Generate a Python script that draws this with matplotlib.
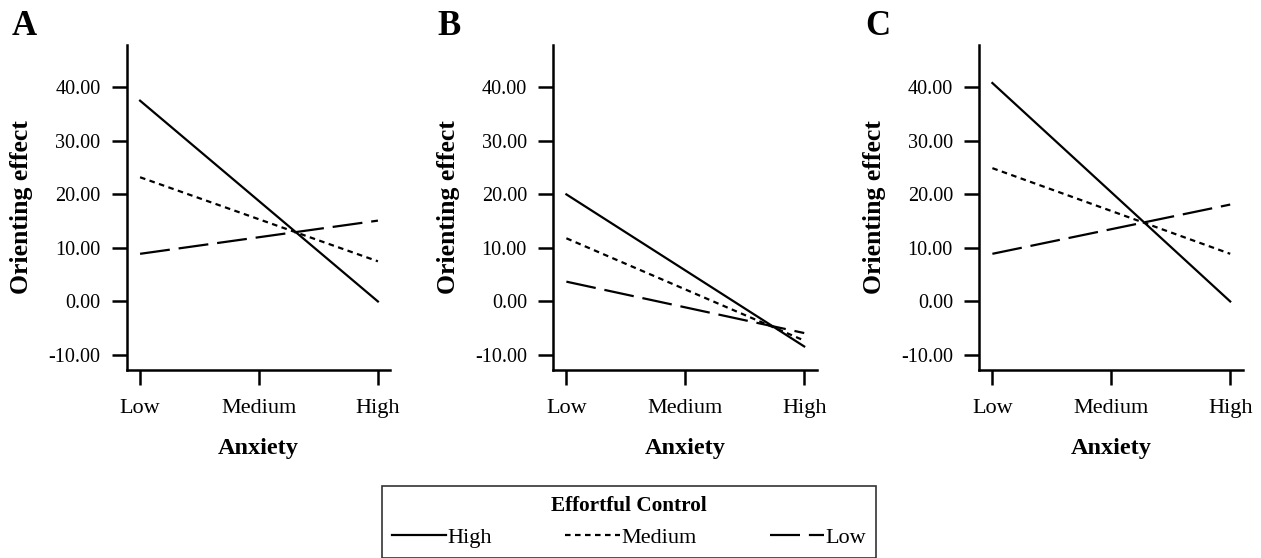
import matplotlib.pyplot as plt

plt.rcParams['font.family'] = 'Liberation Serif'

anxiety = ['Low', 'Medium', 'High']
xpos = [0, 1, 2]

# orienting effect at low / high anxiety for each effortful control level
panel_labels = ['A', 'B', 'C']
ec_high = [[37.5, 0.0], [20.0, -8.4], [40.8, 0.0]]
ec_medium = [[23.2, 7.5], [11.8, -7.3], [24.9, 8.9]]
ec_low = [[8.9, 15.1], [3.7, -5.9], [8.9, 18.1]]

yticks = [-10, 0, 10, 20, 30, 40]

W, H = 1261, 558
fig = plt.figure(figsize=(W / 100, H / 100), dpi=100)

lefts = [127, 553.3, 979.3]
letter_x = [12, 437, 865]
lw = 1.6
handles = None
for i in range(3):
    ax = fig.add_axes([lefts[i] / W, 1 - 370 / H, 263.4 / W, 325 / H])
    h1, = ax.plot([0, 2], ec_high[i], color='black', lw=lw, label='High')
    h2, = ax.plot([0, 2], ec_medium[i], color='black', lw=lw, dashes=(2.5, 2.0), label='Medium')
    h3, = ax.plot([0, 2], ec_low[i], color='black', lw=lw, dashes=(13.5, 4), label='Low')
    if handles is None:
        handles = [h1, h2, h3]
    ax.set_xlim(-0.11, 2.105)
    ax.set_ylim(-12.8, 47.9)
    ax.set_xticks(xpos)
    ax.set_xticklabels(anxiety, fontsize=16)
    ax.set_yticks(yticks)
    ax.set_yticklabels(['%.2f' % v for v in yticks], fontsize=14.5)
    ax.tick_params(direction='out', length=11, width=1.8, color='black')
    ax.tick_params(axis='y', pad=8)
    ax.tick_params(axis='x', pad=10)
    for s in ['top', 'right']:
        ax.spines[s].set_visible(False)
    for s in ['left', 'bottom']:
        ax.spines[s].set_linewidth(1.8)
    ax.set_xlabel('Anxiety', fontsize=17.5, fontweight='bold')
    ax.set_ylabel('Orienting effect', fontsize=18.5, fontweight='bold')
    ax.xaxis.set_label_coords(0.5, -0.21)
    ax.yaxis.set_label_coords(-0.355, 0.5)
    fig.text(letter_x[i] / W, 1 - 35 / H, panel_labels[i], fontsize=25,
             fontweight='bold', va='baseline', ha='left')

leg = fig.legend(handles=handles, loc='upper left', bbox_to_anchor=(382 / W, 1 - 486 / H),
                 ncol=3, fontsize=16, title='Effortful Control',
                 title_fontproperties={'weight': 'bold', 'size': 15.3},
                 handlelength=2.45, handletextpad=0.05, columnspacing=3.3,
                 borderpad=0.45, borderaxespad=0, fancybox=False, frameon=True)
leg.get_frame().set_edgecolor('black')
leg.get_frame().set_linewidth(1.2)

fig.savefig('out.png', dpi=100)
